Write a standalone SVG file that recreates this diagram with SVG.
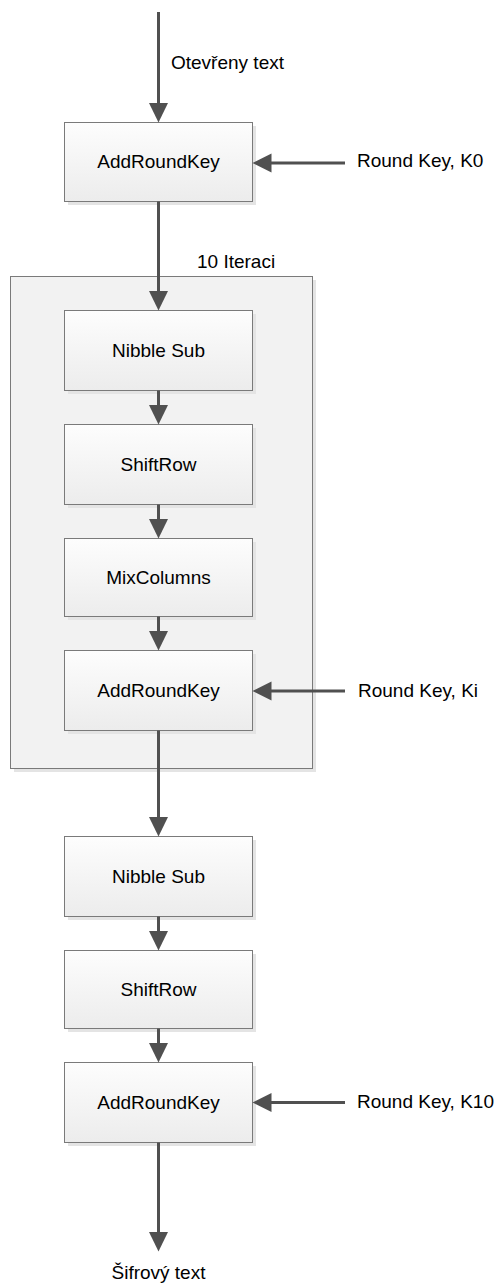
<svg xmlns="http://www.w3.org/2000/svg" width="496" height="1283" viewBox="0 0 496 1283">
<style>
text{font-family:"Liberation Sans",Arial,sans-serif;font-size:19px;fill:#000}
.c{text-anchor:middle}
.box{fill:url(#g);stroke:#7a7a7a;stroke-width:1}
.sh{fill:#e4e4e4}
.ln{stroke:#505050;stroke-width:3;fill:none}
.ah{fill:#505050}
</style>
<defs>
<linearGradient id="g" x1="0" y1="0" x2="0" y2="1">
<stop offset="0" stop-color="#fdfdfd"/>
<stop offset="1" stop-color="#ececec"/>
</linearGradient>
</defs>
<g id="container">
<rect class="sh" x="14" y="280" width="302" height="492"/>
<rect x="10.5" y="276.5" width="302" height="492" fill="#f2f2f2" stroke="#7a7a7a"/>
<text x="197" y="268">10 Iteraci</text>
</g>
<g id="labels">
<text x="171" y="69">Otevřeny text</text>
<text x="357" y="167">Round Key, K0</text>
<text x="358" y="697">Round Key, Ki</text>
<text x="357" y="1108">Round Key, K10</text>
<text class="c" x="158.5" y="1279">Šifrový text</text>
</g>
<g id="n1"><rect class="sh" x="68" y="126" width="188" height="79"/><rect class="box" x="64.5" y="122.5" width="188" height="79"/><text class="c" x="158.5" y="168">AddRoundKey</text></g>
<g id="n2"><rect class="sh" x="68" y="314" width="188" height="80"/><rect class="box" x="64.5" y="310.5" width="188" height="80"/><text class="c" x="158.5" y="357">Nibble Sub</text></g>
<g id="n3"><rect class="sh" x="68" y="428" width="188" height="80"/><rect class="box" x="64.5" y="424.5" width="188" height="80"/><text class="c" x="158.5" y="471">ShiftRow</text></g>
<g id="n4"><rect class="sh" x="68" y="542" width="188" height="78"/><rect class="box" x="64.5" y="538.5" width="188" height="78"/><text class="c" x="158.5" y="584">MixColumns</text></g>
<g id="n5"><rect class="sh" x="68" y="654" width="188" height="80"/><rect class="box" x="64.5" y="650.5" width="188" height="80"/><text class="c" x="158.5" y="697">AddRoundKey</text></g>
<g id="n6"><rect class="sh" x="68" y="840" width="188" height="80"/><rect class="box" x="64.5" y="836.5" width="188" height="80"/><text class="c" x="158.5" y="883">Nibble Sub</text></g>
<g id="n7"><rect class="sh" x="68" y="954" width="188" height="78"/><rect class="box" x="64.5" y="950.5" width="188" height="78"/><text class="c" x="158.5" y="996">ShiftRow</text></g>
<g id="n8"><rect class="sh" x="68" y="1066" width="188" height="80"/><rect class="box" x="64.5" y="1062.5" width="188" height="80"/><text class="c" x="158.5" y="1109">AddRoundKey</text></g>
<g id="connectors">
<path class="ln" d="M158.5 12V104"/><path class="ah" d="M149 103L168 103L158.5 122.5Z"/>
<path class="ln" d="M158.5 201.5V292"/><path class="ah" d="M149 291L168 291L158.5 310.5Z"/>
<path class="ln" d="M158.5 390.5V406"/><path class="ah" d="M149 405L168 405L158.5 424.5Z"/>
<path class="ln" d="M158.5 504.5V520"/><path class="ah" d="M149 519L168 519L158.5 538.5Z"/>
<path class="ln" d="M158.5 616.5V632"/><path class="ah" d="M149 631L168 631L158.5 650.5Z"/>
<path class="ln" d="M158.5 730.5V818"/><path class="ah" d="M149 817L168 817L158.5 836.5Z"/>
<path class="ln" d="M158.5 916.5V932"/><path class="ah" d="M149 931L168 931L158.5 950.5Z"/>
<path class="ln" d="M158.5 1028.5V1044"/><path class="ah" d="M149 1043L168 1043L158.5 1062.5Z"/>
<path class="ln" d="M158.5 1142.5V1233"/><path class="ah" d="M149 1232L168 1232L158.5 1251.5Z"/>
<path class="ln" d="M345 163H270"/><path class="ah" d="M271.5 153.5L271.5 172.5L252.5 163Z"/>
<path class="ln" d="M345 691H270"/><path class="ah" d="M271.5 681.5L271.5 700.5L252.5 691Z"/>
<path class="ln" d="M345 1102.5H270"/><path class="ah" d="M271.5 1093L271.5 1112L252.5 1102.5Z"/>
</g>
</svg>
